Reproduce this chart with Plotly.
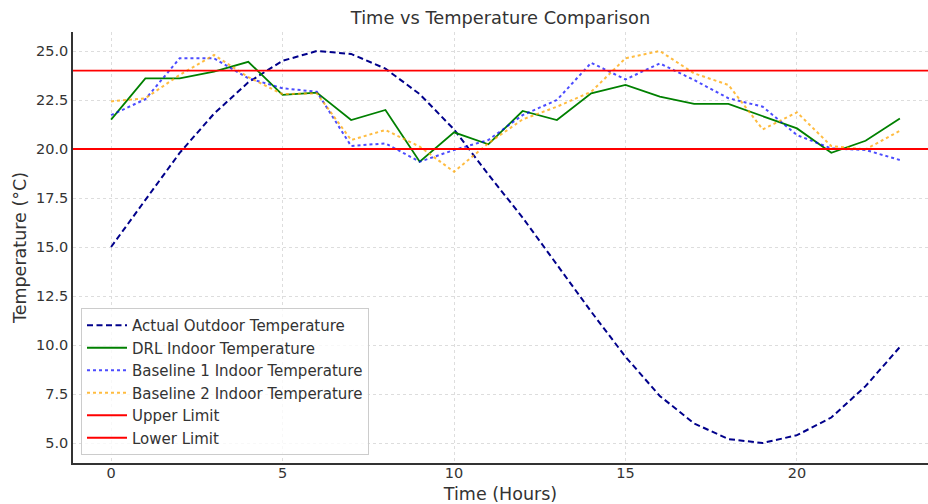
import plotly.graph_objects as go

hours = list(range(24))
outdoor = [15.0, 17.4, 19.8, 21.8, 23.4, 24.5, 25.0, 24.85, 24.1, 22.8, 21.0, 18.7,
           16.5, 14.1, 11.7, 9.4, 7.4, 6.0, 5.2, 5.0, 5.4, 6.3, 7.9, 9.9]
drl = [21.5, 23.6, 23.6, 23.95, 24.45, 22.76, 22.88, 21.48, 21.99, 19.35, 20.85, 20.24,
       21.94, 21.48, 22.84, 23.27, 22.67, 22.3, 22.3, 21.68, 21.05, 19.81, 20.42, 21.56]
baseline1 = [21.73, 22.54, 24.63, 24.63, 23.61, 23.1, 22.92, 20.15, 20.29, 19.35, 19.95, 20.46,
             21.73, 22.5, 24.4, 23.55, 24.37, 23.52, 22.59, 22.16, 20.71, 20.03, 19.95, 19.44]
baseline2 = [22.43, 22.59, 23.78, 24.8, 23.67, 22.8, 22.84, 20.46, 20.97, 20.12, 18.84, 20.29,
             21.51, 22.16, 22.92, 24.63, 25.0, 23.86, 23.27, 21.0, 21.87, 20.15, 19.98, 20.93]
upper_limit = 24.0
lower_limit = 20.0
x_range = [-1.11, 23.82]
y_range = [3.98, 25.97]
y_ticks = [5.0, 7.5, 10.0, 12.5, 15.0, 17.5, 20.0, 22.5, 25.0]
x_ticks = [0, 5, 10, 15, 20]

fig = go.Figure()
fig.add_trace(go.Scatter(x=hours, y=outdoor, mode="lines", name="Actual Outdoor Temperature",
                         line=dict(color="#00008B", width=2, dash="6px,3.5px")))
fig.add_trace(go.Scatter(x=hours, y=drl, mode="lines", name="DRL Indoor Temperature",
                         line=dict(color="green", width=1.8)))
fig.add_trace(go.Scatter(x=hours, y=baseline1, mode="lines", name="Baseline 1 Indoor Temperature",
                         line=dict(color="rgba(0,0,255,0.7)", width=2, dash="dot")))
fig.add_trace(go.Scatter(x=hours, y=baseline2, mode="lines", name="Baseline 2 Indoor Temperature",
                         line=dict(color="rgba(255,165,0,0.75)", width=2, dash="dot")))
fig.add_trace(go.Scatter(x=x_range, y=[upper_limit, upper_limit], mode="lines", name="Upper Limit",
                         line=dict(color="red", width=1.8)))
fig.add_trace(go.Scatter(x=x_range, y=[lower_limit, lower_limit], mode="lines", name="Lower Limit",
                         line=dict(color="red", width=1.8)))

font_family = "DejaVu Sans"
fig.update_layout(
    width=928, height=504,
    margin=dict(l=73, r=0, t=32, b=41, autoexpand=False),
    plot_bgcolor="white", paper_bgcolor="white",
    font=dict(family=font_family, size=14, color="#333333"),
    title=dict(text="Time vs Temperature Comparison", x=(73 + 928) / 2 / 928, xanchor="center",
               y=1 - 18 / 504, yanchor="middle", font=dict(size=17.8, color="#333333")),
    xaxis=dict(range=x_range, tickvals=x_ticks, automargin=False,
               title=dict(text="Time (Hours)", font=dict(size=17.5), standoff=8),
               showgrid=True, gridcolor="#dddddd", griddash="dot", gridwidth=1,
               showline=True, linecolor="#333333", linewidth=1.5,
               ticks="", zeroline=False, ticklabelstandoff=-4,
               tickfont=dict(size=14.5)),
    yaxis=dict(range=y_range, tickvals=y_ticks, ticktext=[f"{v:.1f}" for v in y_ticks], automargin=False,
               title=dict(text="Temperature (°C)", font=dict(size=17.5), standoff=5),
               showgrid=True, gridcolor="#dddddd", griddash="dot", gridwidth=1,
               showline=True, linecolor="#333333", linewidth=1.5,
               ticks="", zeroline=False,
               tickfont=dict(size=14.5)),
    legend=dict(x=8 / 855, y=8 / 431, xanchor="left", yanchor="bottom",
                bgcolor="rgba(255,255,255,0.8)", bordercolor="#cccccc", borderwidth=1,
                font=dict(size=15, color="#333333"), itemwidth=40, tracegroupgap=0),
    showlegend=True,
)

fig.write_html("out.html", config={"displayModeBar": False},
               post_script="document.body.style.margin='0';document.body.style.overflow='hidden';")
